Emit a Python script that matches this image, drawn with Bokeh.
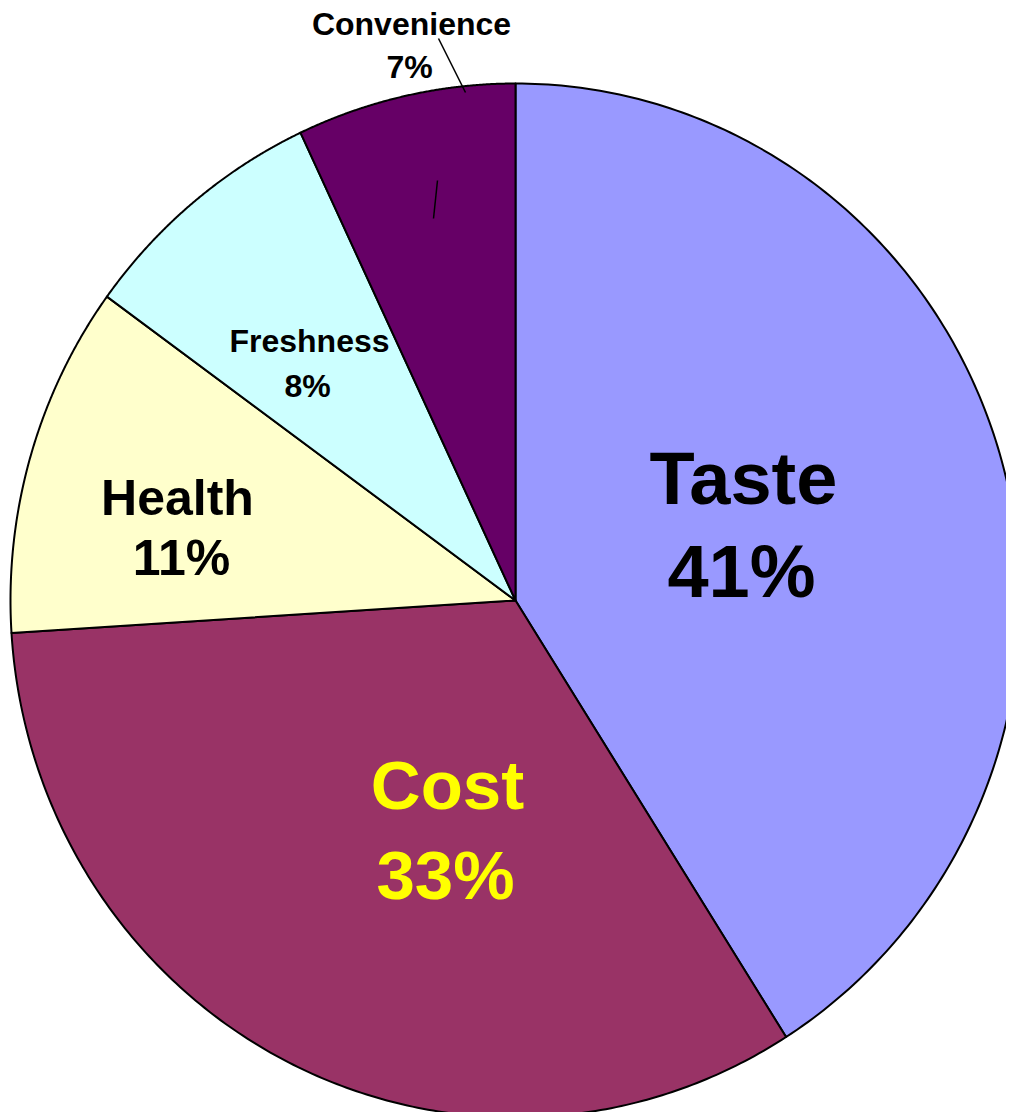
import numpy as np
from bokeh.plotting import figure
from bokeh.models import Range1d
from bokeh.core.properties import value
from bokeh.embed import file_html
from bokeh.resources import INLINE

# ---- data ----
categories = ["Taste", "Cost", "Health", "Freshness", "Convenience"]
percents = [41, 33, 11, 8, 7]
colors = ["#9999FF", "#993366", "#FFFFCC", "#CCFFFF", "#660066"]
label_colors = ["#000000", "#FFFF00", "#000000", "#000000", "#000000"]

# ---- layout (screen-pixel-like coordinates) ----
W, H = 1006, 1112
cx, cy = 515.0, 600.0
rx, ry = 505.0, 517.0

p = figure(width=W, height=H, output_backend="svg", toolbar_location=None,
           x_range=Range1d(0, W), y_range=Range1d(H, 0),
           min_border=0, outline_line_color=None)
p.axis.visible = False
p.grid.visible = False
p.background_fill_color = "white"
p.border_fill_color = "white"

vals = np.array(percents, dtype=float)
frac = vals / vals.sum()
ends = np.cumsum(frac) * 2 * np.pi
starts = ends - frac * 2 * np.pi

xs, ys = [], []
for a0, a1 in zip(starts, ends):
    t = np.linspace(a0, a1, 200)
    x = np.concatenate([[cx], cx + rx * np.sin(t), [cx]])
    y = np.concatenate([[cy], cy - ry * np.cos(t), [cy]])
    xs.append(list(x))
    ys.append(list(y))

p.patches(xs, ys, fill_color=colors, line_color="black", line_width=2,
          line_join="round")

# labels (baseline positions, corrected for renderer offset)
name_pos = [(743, 505), (447, 810), (177, 515), (309, 352), (411, 35)]
pct_pos = [(741, 598), (445, 900), (181, 575), (307, 397), (409, 78)]
sizes = [74, 69, 50, 32, 32]
shift = 0.36

for i, cat in enumerate(categories):
    dy = shift * sizes[i]
    p.text(x=[name_pos[i][0]], y=[name_pos[i][1] - dy], text=[cat],
           text_font=value("Liberation Sans"), text_font_style="bold",
           text_font_size=f"{sizes[i]}px", text_color=label_colors[i],
           text_align="center", text_baseline="alphabetic")
    p.text(x=[pct_pos[i][0]], y=[pct_pos[i][1] - dy], text=[f"{percents[i]}%"],
           text_font=value("Liberation Sans"), text_font_style="bold",
           text_font_size=f"{sizes[i]}px", text_color=label_colors[i],
           text_align="center", text_baseline="alphabetic")

# leader line for Convenience and stray mark
p.segment(x0=[438, 437], y0=[38, 180], x1=[465, 433], y1=[92, 218],
          line_color="black", line_width=1.5)

open("out.html", "w").write(file_html(p, INLINE))
